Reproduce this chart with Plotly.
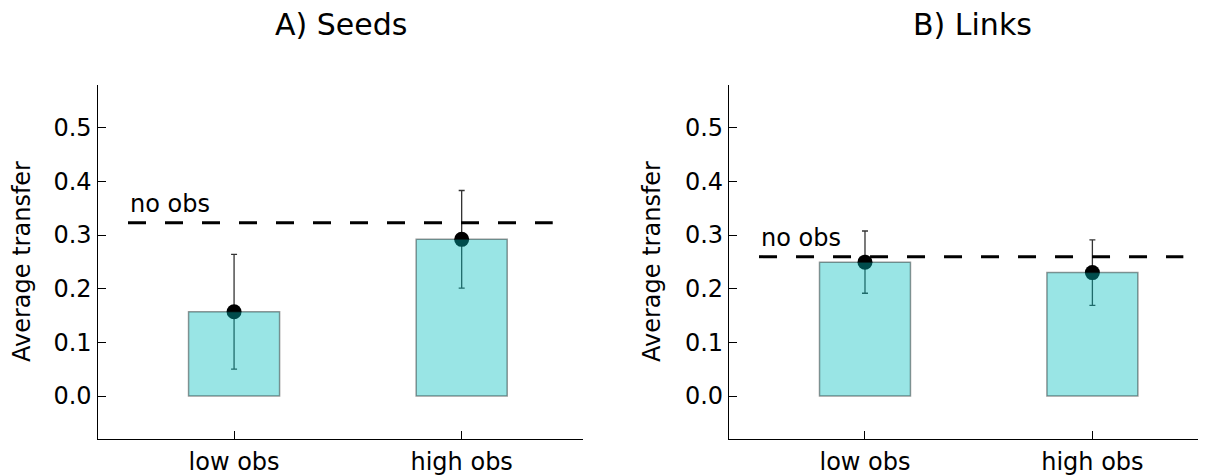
import plotly.graph_objects as go

categories = ["low obs", "high obs"]
seeds_mean = [0.157, 0.292]
seeds_err = [0.107, 0.091]
seeds_noobs = 0.323
links_mean = [0.2495, 0.230]
links_err = [0.058, 0.061]
links_noobs = 0.2596
yticks = [0.0, 0.1, 0.2, 0.3, 0.4, 0.5]
panel_titles = ["A) Seeds", "B) Links"]
ylabel = "Average transfer"
ref_label = "no obs"

# The page body has an 8px margin; the figure is sized to fill the rest.
OFF = 8
W, H = 1206 - OFF, 476 - OFF
FONT = "DejaVu Sans"
BAR_FILL = "rgba(0,191,191,0.4)"
BAR_EDGE = "rgba(0,0,0,0.4)"

def px_x(p):
    return (p - OFF) / W

def px_y(p):
    return 1 - (p - OFF) / H

fig = go.Figure()

panels = [
    dict(mean=seeds_mean, err=seeds_err, ref=seeds_noobs, xa="x", ya="y",
         oxa="x3", oya="y3", title=panel_titles[0], tx=341, lx=22),
    dict(mean=links_mean, err=links_err, ref=links_noobs, xa="x2", ya="y2",
         oxa="x4", oya="y4", title=panel_titles[1], tx=972, lx=652),
]

for p in panels:
    fig.add_trace(go.Scatter(
        x=categories, y=p["mean"], mode="markers",
        marker=dict(color="black", size=15),
        error_y=dict(type="data", array=p["err"], visible=True,
                     color="rgba(0,0,0,0.8)", thickness=1.3, width=3),
        xaxis=p["xa"], yaxis=p["ya"], showlegend=False, hoverinfo="skip",
    ))
    fig.add_trace(go.Bar(
        x=categories, y=p["mean"], width=0.4,
        marker=dict(color=BAR_FILL, line=dict(color=BAR_EDGE, width=1.5)),
        xaxis=p["oxa"], yaxis=p["oya"], showlegend=False, hoverinfo="skip",
    ))
    fig.add_shape(type="line", xref=p["xa"], yref=p["ya"],
                  x0=-0.466, x1=1.40, y0=p["ref"], y1=p["ref"],
                  line=dict(color="black", width=3, dash="18px,19px"))
    fig.add_annotation(text=ref_label, xref=p["xa"], yref=p["ya"],
                       x=-0.466, y=p["ref"], xanchor="left", yanchor="bottom",
                       yshift=3, showarrow=False,
                       font=dict(family=FONT, size=24, color="black"))
    fig.add_annotation(text=p["title"], xref="paper", yref="paper",
                       x=px_x(p["tx"]), y=px_y(25), xanchor="center",
                       yanchor="middle", showarrow=False,
                       font=dict(family=FONT, size=30, color="black"))
    fig.add_annotation(text=ylabel, xref="paper", yref="paper",
                       x=px_x(p["lx"]), y=px_y(262), xanchor="center",
                       yanchor="middle", textangle=-90, showarrow=False,
                       font=dict(family=FONT, size=24, color="black"))

ydom = [px_y(439), px_y(85)]
yrange = [-0.0801, 0.5796]

xcommon = dict(type="category", categoryorder="array", categoryarray=categories,
               showline=True, linecolor="black", linewidth=1.3, mirror=False,
               ticks="inside", ticklen=8, tickwidth=1, tickcolor="black",
               showgrid=False, zeroline=False, ticklabelstandoff=1,
               automargin=False,
               tickfont=dict(family=FONT, size=24, color="black"))
ycommon = dict(range=yrange, tickvals=yticks, ticktext=[f"{v:.1f}" for v in yticks],
               showline=True, linecolor="black", linewidth=1.3,
               ticks="inside", ticklen=8, tickwidth=1, tickcolor="black",
               showgrid=False, zeroline=False, ticklabelstandoff=0,
               automargin=False,
               tickfont=dict(family=FONT, size=24, color="black"))

fig.update_layout(
    width=W, height=H,
    margin=dict(l=0, r=0, t=0, b=0, autoexpand=False),
    paper_bgcolor="white", plot_bgcolor="white",
    font=dict(family=FONT, size=24, color="black"),
    xaxis=dict(domain=[px_x(97.5), px_x(583)], range=[-0.6, 1.533], anchor="y", **xcommon),
    yaxis=dict(domain=ydom, anchor="x", **ycommon),
    xaxis2=dict(domain=[px_x(729), 1.0], range=[-0.598, 1.4996], anchor="y2", **xcommon),
    yaxis2=dict(domain=ydom, anchor="x2", **ycommon),
    xaxis3=dict(type="category", categoryorder="array", categoryarray=categories,
                overlaying="x", range=[-0.6, 1.533], visible=False, anchor="y3",
                automargin=False),
    yaxis3=dict(overlaying="y", range=yrange, visible=False, anchor="x3",
                automargin=False),
    xaxis4=dict(type="category", categoryorder="array", categoryarray=categories,
                overlaying="x2", range=[-0.598, 1.4996], visible=False, anchor="y4",
                automargin=False),
    yaxis4=dict(overlaying="y2", range=yrange, visible=False, anchor="x4",
                automargin=False),
)

fig.write_html("out.html")
